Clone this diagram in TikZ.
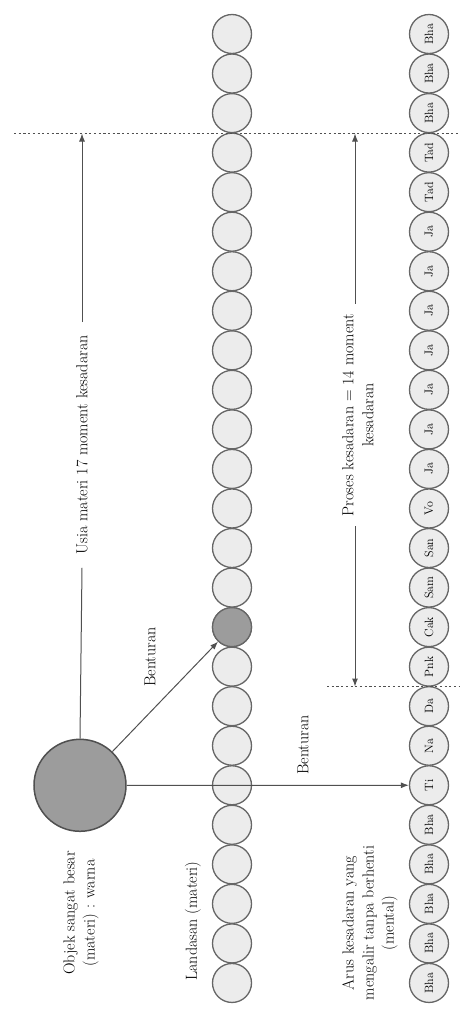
\documentclass[tikz,border=0pt]{standalone}
\usetikzlibrary{arrows.meta}
\definecolor{ringc}{HTML}{666666}
\definecolor{lightc}{HTML}{ECECEC}
\definecolor{darkfill}{HTML}{9C9C9C}
\definecolor{linec}{HTML}{505050}
\begin{document}
\begin{tikzpicture}[x=1pt,y=-1pt,
  bead/.style={circle,draw=ringc,line width=1.3pt,fill=lightc,minimum size=39pt,inner sep=0pt},
  mbead/.style={bead,font=\fontsize{12}{14}\selectfont,rotate=90},
  lbl/.style={font=\fontsize{16}{20}\selectfont,rotate=90,align=center,text=black},
  arr/.style={draw=linec,line width=1pt,-{Latex[length=8pt,width=6pt]}},
  dotline/.style={draw=linec,line width=1pt,dash pattern=on 2.2pt off 2.5pt}]
\useasboundingbox (0,0) rectangle (459,1015);
% middle column (landasan)
\foreach \i in {0,...,24}{
  \pgfmathsetmacro{\yy}{34+39.54*\i}
  \node[bead] (m\i) at (232,\yy) {};
}
\node[bead,fill=darkfill] at (m15) {};
% right column (arus kesadaran)
\foreach \t [count=\j from 0] in {Bha,Bha,Bha,Tad,Tad,Ja,Ja,Ja,Ja,Ja,Ja,Ja,Vo,San,Sam,Cak,Pnk,Da,Na,Ti,Bha,Bha,Bha,Bha,Bha}{
  \pgfmathsetmacro{\yy}{34+39.54*\j}
  \node[mbead] (r\j) at (429,\yy) {\t};
}
% big object
\node[circle,draw=linec,line width=1.5pt,fill=darkfill,minimum size=92pt,inner sep=0pt] (big) at (80,785.3) {};
% dotted lines
\coordinate (d1a) at (14,133.5);
\coordinate (d1b) at (459,133.5);
\coordinate (d2a) at (327,686.5);
\coordinate (d2b) at (459,686.5);
\draw[dotline] (d1a) -- (d1b);
\draw[dotline] (d2a) -- (d2b);
% left dimension: usia materi
\coordinate (t1) at (82,133.5);
\node[lbl,inner sep=13pt] (usia) at (82,445) {Usia materi 17 moment kesadaran};
\draw[arr] (usia.east) -- (t1);
\draw[draw=linec,line width=1pt] (usia.west) -- (big.north);
% right dimension: proses kesadaran
\coordinate (t2) at (355,133.5);
\coordinate (b2) at (355,686.5);
\node[lbl,inner sep=10pt] (proses) at (358,415) {Proses kesadaran = 14 moment\\kesadaran};
\draw[arr] (t2 |- proses.east) -- (t2);
\draw[arr] (b2 |- proses.west) -- (b2);
% impacts
\draw[arr] (big) -- (m15);
\draw[arr] (big) -- (r19);
\node[lbl] (ben1) at (150,657) {Benturan};
\node[lbl] (ben2) at (303,745) {Benturan};
% bottom labels
\node[lbl] (objek) at (81,913) {Objek sangat besar\\(materi) : warna};
\node[lbl] (landasan) at (193,921) {Landasan (materi)};
\node[lbl] (arus) at (370,923) {Arus kesadaran yang\\mengalir tanpa berhenti\\(mental)};
\end{tikzpicture}
\end{document}
